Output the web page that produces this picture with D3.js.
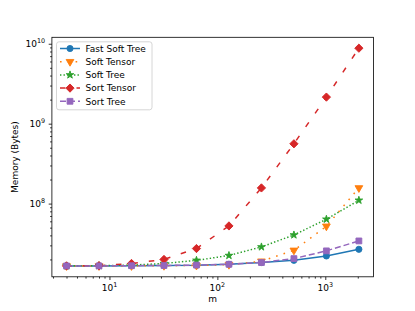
<!DOCTYPE html>
<html>
<head>
<meta charset="utf-8">
<script src="https://cdnjs.cloudflare.com/ajax/libs/d3/7.8.5/d3.min.js"></script>
<style>
  body { margin: 0; background: #fff; }
  text { font-family: "DejaVu Sans", sans-serif; fill: #000; }
</style>
</head>
<body>
<div id="chart"></div>
<script>
// values
var mValues = [4, 8, 16, 32, 64, 128, 256, 512, 1024, 2048];
var seriesNames = ["Fast Soft Tree", "Soft Tensor", "Soft Tree", "Sort Tensor", "Sort Tree"];
var fastSoftTree = [1.66e7, 1.66e7, 1.67e7, 1.68e7, 1.69e7, 1.74e7, 1.83e7, 1.95e7, 2.21e7, 2.68e7];
var softTensor   = [1.66e7, 1.66e7, 1.66e7, 1.67e7, 1.68e7, 1.72e7, 1.90e7, 2.60e7, 5.20e7, 1.57e8];
var softTree     = [1.66e7, 1.67e7, 1.70e7, 1.78e7, 1.95e7, 2.24e7, 2.87e7, 4.05e7, 6.37e7, 1.10e8];
var sortTensor   = [1.66e7, 1.67e7, 1.78e7, 2.00e7, 2.74e7, 5.25e7, 1.57e8, 5.60e8, 2.15e9, 8.80e9];
var sortTree     = [1.66e7, 1.66e7, 1.67e7, 1.68e7, 1.70e7, 1.74e7, 1.83e7, 2.05e7, 2.56e7, 3.41e7];
var xMajorTicks = [10, 100, 1000];
var yMajorTicks = [1e8, 1e9, 1e10];

var W = 415, H = 311;
var plotLeft = 51.9, plotRight = 373.5, plotTop = 37.3, plotBottom = 276.8;

var series = [
  {name: seriesNames[0], values: fastSoftTree, color: "#1f77b4", dash: null,       symbol: "circle"},
  {name: seriesNames[1], values: softTensor,   color: "#ff7f0e", dash: "1.6,6.2",  symbol: "tri"},
  {name: seriesNames[2], values: softTree,     color: "#2ca02c", dash: "1.4,2.1",  symbol: "star"},
  {name: seriesNames[3], values: sortTensor,   color: "#d62728", dash: "5.5,11",   symbol: "diamond"},
  {name: seriesNames[4], values: sortTree,     color: "#9467bd", dash: "6,3",      symbol: "square"}
];

// matplotlib style 5% margins in log space
function logDomain(vals) {
  var lo = Math.log10(d3.min(vals)), hi = Math.log10(d3.max(vals));
  var pad = (hi - lo) * 0.05;
  return [Math.pow(10, lo - pad), Math.pow(10, hi + pad)];
}
var allY = [].concat(fastSoftTree, softTensor, softTree, sortTensor, sortTree);

var x = d3.scaleLog().domain(logDomain(mValues)).range([plotLeft, plotRight]);
var y = d3.scaleLog().domain(logDomain(allY)).range([plotBottom, plotTop]);

function minorTicks(domain) {
  var out = [];
  var e0 = Math.floor(Math.log10(domain[0])), e1 = Math.ceil(Math.log10(domain[1]));
  for (var e = e0; e <= e1; e++) {
    for (var k = 2; k <= 9; k++) {
      var v = k * Math.pow(10, e);
      if (v >= domain[0] && v <= domain[1]) out.push(v);
    }
  }
  return out;
}

var svg = d3.select("#chart").append("svg")
  .attr("width", W).attr("height", H);

svg.append("rect").attr("width", W).attr("height", H).attr("fill", "#fff");

// axes
var xMinor = d3.axisBottom(x).tickValues(minorTicks(x.domain())).tickFormat("").tickSize(1.8);
var xMajor = d3.axisBottom(x).tickValues(xMajorTicks).tickFormat("").tickSize(3.2);
var yMinor = d3.axisLeft(y).tickValues(minorTicks(y.domain())).tickFormat("").tickSize(1.8);
var yMajor = d3.axisLeft(y).tickValues(yMajorTicks).tickFormat("").tickSize(3.2);

[[xMinor, "translate(0," + plotBottom + ")"], [xMajor, "translate(0," + plotBottom + ")"],
 [yMinor, "translate(" + plotLeft + ",0)"], [yMajor, "translate(" + plotLeft + ",0)"]].forEach(function(a) {
  var g = svg.append("g").attr("transform", a[1]).call(a[0]);
  g.select(".domain").remove();
  g.selectAll("line").attr("stroke", "#000").attr("stroke-width", 0.8);
});

// tick labels with superscript exponents
svg.selectAll(".xlab").data(xMajorTicks).enter().append("text")
  .attr("class", "xlab")
  .attr("x", function(d) { return x(d); })
  .attr("y", 291)
  .attr("text-anchor", "middle")
  .attr("font-size", 9)
  .each(function(d) {
    var t = d3.select(this);
    t.append("tspan").text("10");
    t.append("tspan").attr("font-size", 6.4).attr("dy", -3.6).text(Math.round(Math.log10(d)));
  });

svg.selectAll(".ylab").data(yMajorTicks).enter().append("text")
  .attr("class", "ylab")
  .attr("x", plotLeft - 6.8)
  .attr("y", function(d) { return y(d) + 3.2; })
  .attr("text-anchor", "end")
  .attr("font-size", 9)
  .each(function(d) {
    var t = d3.select(this);
    t.append("tspan").text("10");
    t.append("tspan").attr("font-size", 6.4).attr("dy", -3.6).text(Math.round(Math.log10(d)));
  });

svg.append("text")
  .attr("x", (plotLeft + plotRight) / 2).attr("y", 302)
  .attr("text-anchor", "middle").attr("font-size", 9)
  .text("m");

svg.append("text")
  .attr("transform", "translate(18," + ((plotTop + plotBottom) / 2) + ") rotate(-90)")
  .attr("text-anchor", "middle").attr("font-size", 9)
  .text("Memory (Bytes)");

// markers
function markerPath(kind) {
  if (kind === "circle") return d3.symbol().type(d3.symbolCircle).size(30)();
  if (kind === "square") return d3.symbol().type(d3.symbolSquare).size(34)();
  if (kind === "diamond") return d3.symbol().type(d3.symbolSquare).size(34)();
  if (kind === "tri") return d3.symbol().type(d3.symbolTriangle).size(26)();
  return d3.symbol().type(d3.symbolStar).size(18)();
}
function markerRot(kind) {
  if (kind === "diamond") return 45;
  if (kind === "tri") return 180;
  return 0;
}

var line = d3.line()
  .x(function(d, i) { return x(mValues[i]); })
  .y(function(d) { return y(d); });

var plot = svg.append("g");
series.forEach(function(s) {
  plot.append("path")
    .datum(s.values)
    .attr("d", line)
    .attr("fill", "none")
    .attr("stroke", s.color)
    .attr("stroke-width", 1.5)
    .attr("stroke-dasharray", s.dash);
  plot.selectAll(null).data(s.values).enter().append("path")
    .attr("d", markerPath(s.symbol))
    .attr("transform", function(d, i) {
      return "translate(" + x(mValues[i]) + "," + y(d) + ") rotate(" + markerRot(s.symbol) + ")";
    })
    .attr("fill", s.color)
    .attr("stroke", s.color)
    .attr("stroke-width", 0.9);
});

// frame
svg.append("rect")
  .attr("x", plotLeft).attr("y", plotTop)
  .attr("width", plotRight - plotLeft).attr("height", plotBottom - plotTop)
  .attr("fill", "none").attr("stroke", "#000").attr("stroke-width", 0.8);

// legend
var lg = svg.append("g");
lg.append("rect")
  .attr("x", 56.5).attr("y", 41.8).attr("width", 95.5).attr("height", 68)
  .attr("rx", 2.5)
  .attr("fill", "#fff").attr("fill-opacity", 0.8)
  .attr("stroke", "#ccc").attr("stroke-width", 0.8);

series.forEach(function(s, i) {
  var ly = 48.5 + i * 13.2;
  lg.append("line")
    .attr("x1", 60).attr("x2", 80).attr("y1", ly).attr("y2", ly)
    .attr("stroke", s.color).attr("stroke-width", 1.5)
    .attr("stroke-dasharray", s.dash);
  lg.append("path")
    .attr("d", markerPath(s.symbol))
    .attr("transform", "translate(70," + ly + ") rotate(" + markerRot(s.symbol) + ")")
    .attr("fill", s.color).attr("stroke", s.color).attr("stroke-width", 0.9);
  lg.append("text")
    .attr("x", 85.5).attr("y", ly + 3.3)
    .attr("font-size", 9)
    .text(s.name);
});
</script>
</body>
</html>
